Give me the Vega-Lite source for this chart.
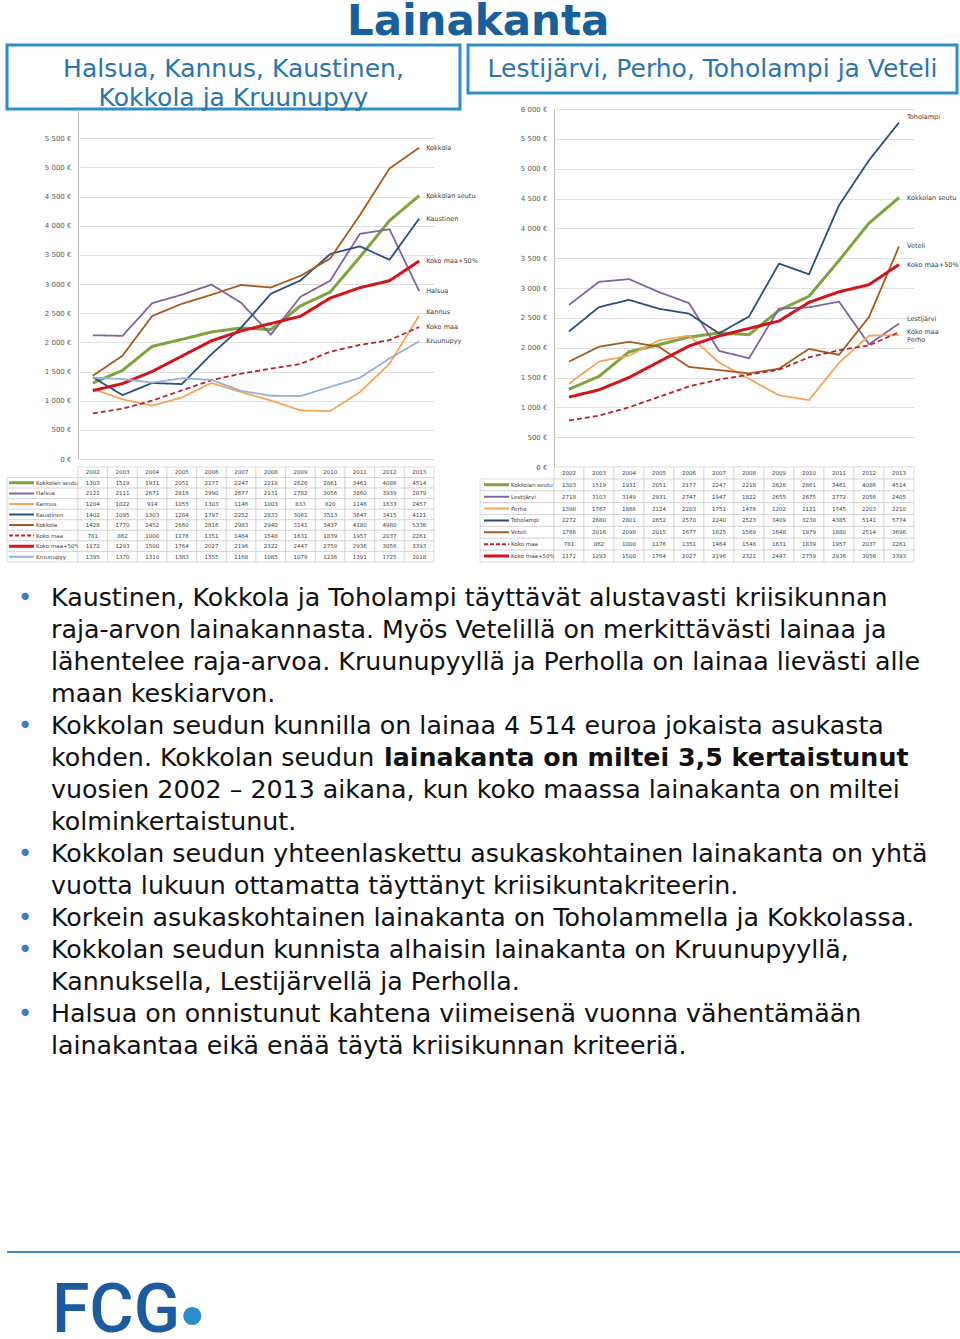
{
"$schema": "https://vega.github.io/schema/vega-lite/v6.json",
"padding": {"left": 5, "top": 0, "right": 0, "bottom": 0},
"config": {"view": {"stroke": null}, "font": "DejaVu Sans", "text": {"font": "DejaVu Sans"}},
"title": {"text": "Lainakanta", "fontSize": 42, "fontWeight": "bold", "color": "#17609C", "anchor": "middle", "offset": 0, "dx": -6, "font": "DejaVu Sans"},
"datasets": {
"L": [
{"s":"Kokkolan seutu","yr":"2002","v":1303},{"s":"Kokkolan seutu","yr":"2003","v":1519},{"s":"Kokkolan seutu","yr":"2004","v":1931},{"s":"Kokkolan seutu","yr":"2005","v":2051},{"s":"Kokkolan seutu","yr":"2006","v":2177},{"s":"Kokkolan seutu","yr":"2007","v":2247},{"s":"Kokkolan seutu","yr":"2008","v":2218},{"s":"Kokkolan seutu","yr":"2009","v":2626},{"s":"Kokkolan seutu","yr":"2010","v":2861},{"s":"Kokkolan seutu","yr":"2011","v":3461},{"s":"Kokkolan seutu","yr":"2012","v":4086},{"s":"Kokkolan seutu","yr":"2013","v":4514},
{"s":"Halsua","yr":"2002","v":2121},{"s":"Halsua","yr":"2003","v":2111},{"s":"Halsua","yr":"2004","v":2671},{"s":"Halsua","yr":"2005","v":2816},{"s":"Halsua","yr":"2006","v":2990},{"s":"Halsua","yr":"2007","v":2677},{"s":"Halsua","yr":"2008","v":2131},{"s":"Halsua","yr":"2009","v":2782},{"s":"Halsua","yr":"2010","v":3056},{"s":"Halsua","yr":"2011","v":3860},{"s":"Halsua","yr":"2012","v":3939},{"s":"Halsua","yr":"2013","v":2879},
{"s":"Kannus","yr":"2002","v":1204},{"s":"Kannus","yr":"2003","v":1022},{"s":"Kannus","yr":"2004","v":914},{"s":"Kannus","yr":"2005","v":1055},{"s":"Kannus","yr":"2006","v":1303},{"s":"Kannus","yr":"2007","v":1146},{"s":"Kannus","yr":"2008","v":1003},{"s":"Kannus","yr":"2009","v":833},{"s":"Kannus","yr":"2010","v":820},{"s":"Kannus","yr":"2011","v":1146},{"s":"Kannus","yr":"2012","v":1633},{"s":"Kannus","yr":"2013","v":2457},
{"s":"Kaustinen","yr":"2002","v":1402},{"s":"Kaustinen","yr":"2003","v":1095},{"s":"Kaustinen","yr":"2004","v":1303},{"s":"Kaustinen","yr":"2005","v":1284},{"s":"Kaustinen","yr":"2006","v":1797},{"s":"Kaustinen","yr":"2007","v":2252},{"s":"Kaustinen","yr":"2008","v":2833},{"s":"Kaustinen","yr":"2009","v":3061},{"s":"Kaustinen","yr":"2010","v":3513},{"s":"Kaustinen","yr":"2011","v":3647},{"s":"Kaustinen","yr":"2012","v":3415},{"s":"Kaustinen","yr":"2013","v":4121},
{"s":"Kokkola","yr":"2002","v":1428},{"s":"Kokkola","yr":"2003","v":1770},{"s":"Kokkola","yr":"2004","v":2452},{"s":"Kokkola","yr":"2005","v":2660},{"s":"Kokkola","yr":"2006","v":2816},{"s":"Kokkola","yr":"2007","v":2983},{"s":"Kokkola","yr":"2008","v":2940},{"s":"Kokkola","yr":"2009","v":3141},{"s":"Kokkola","yr":"2010","v":3437},{"s":"Kokkola","yr":"2011","v":4180},{"s":"Kokkola","yr":"2012","v":4980},{"s":"Kokkola","yr":"2013","v":5336},
{"s":"Koko maa","yr":"2002","v":781},{"s":"Koko maa","yr":"2003","v":862},{"s":"Koko maa","yr":"2004","v":1000},{"s":"Koko maa","yr":"2005","v":1176},{"s":"Koko maa","yr":"2006","v":1351},{"s":"Koko maa","yr":"2007","v":1464},{"s":"Koko maa","yr":"2008","v":1548},{"s":"Koko maa","yr":"2009","v":1631},{"s":"Koko maa","yr":"2010","v":1839},{"s":"Koko maa","yr":"2011","v":1957},{"s":"Koko maa","yr":"2012","v":2037},{"s":"Koko maa","yr":"2013","v":2261},
{"s":"Koko maa+50%","yr":"2002","v":1172},{"s":"Koko maa+50%","yr":"2003","v":1293},{"s":"Koko maa+50%","yr":"2004","v":1500},{"s":"Koko maa+50%","yr":"2005","v":1764},{"s":"Koko maa+50%","yr":"2006","v":2027},{"s":"Koko maa+50%","yr":"2007","v":2196},{"s":"Koko maa+50%","yr":"2008","v":2322},{"s":"Koko maa+50%","yr":"2009","v":2447},{"s":"Koko maa+50%","yr":"2010","v":2759},{"s":"Koko maa+50%","yr":"2011","v":2936},{"s":"Koko maa+50%","yr":"2012","v":3056},{"s":"Koko maa+50%","yr":"2013","v":3393},
{"s":"Kruunupyy","yr":"2002","v":1395},{"s":"Kruunupyy","yr":"2003","v":1370},{"s":"Kruunupyy","yr":"2004","v":1310},{"s":"Kruunupyy","yr":"2005","v":1383},{"s":"Kruunupyy","yr":"2006","v":1355},{"s":"Kruunupyy","yr":"2007","v":1168},{"s":"Kruunupyy","yr":"2008","v":1085},{"s":"Kruunupyy","yr":"2009","v":1079},{"s":"Kruunupyy","yr":"2010","v":1236},{"s":"Kruunupyy","yr":"2011","v":1391},{"s":"Kruunupyy","yr":"2012","v":1725},{"s":"Kruunupyy","yr":"2013","v":2018}
],
"R": [
{"s":"Kokkolan seutu","yr":"2002","v":1303},{"s":"Kokkolan seutu","yr":"2003","v":1519},{"s":"Kokkolan seutu","yr":"2004","v":1931},{"s":"Kokkolan seutu","yr":"2005","v":2051},{"s":"Kokkolan seutu","yr":"2006","v":2177},{"s":"Kokkolan seutu","yr":"2007","v":2247},{"s":"Kokkolan seutu","yr":"2008","v":2218},{"s":"Kokkolan seutu","yr":"2009","v":2626},{"s":"Kokkolan seutu","yr":"2010","v":2861},{"s":"Kokkolan seutu","yr":"2011","v":3461},{"s":"Kokkolan seutu","yr":"2012","v":4086},{"s":"Kokkolan seutu","yr":"2013","v":4514},
{"s":"Lestijärvi","yr":"2002","v":2718},{"s":"Lestijärvi","yr":"2003","v":3103},{"s":"Lestijärvi","yr":"2004","v":3149},{"s":"Lestijärvi","yr":"2005","v":2931},{"s":"Lestijärvi","yr":"2006","v":2747},{"s":"Lestijärvi","yr":"2007","v":1947},{"s":"Lestijärvi","yr":"2008","v":1822},{"s":"Lestijärvi","yr":"2009","v":2655},{"s":"Lestijärvi","yr":"2010","v":2675},{"s":"Lestijärvi","yr":"2011","v":2772},{"s":"Lestijärvi","yr":"2012","v":2056},{"s":"Lestijärvi","yr":"2013","v":2405},
{"s":"Perho","yr":"2002","v":1398},{"s":"Perho","yr":"2003","v":1767},{"s":"Perho","yr":"2004","v":1866},{"s":"Perho","yr":"2005","v":2124},{"s":"Perho","yr":"2006","v":2203},{"s":"Perho","yr":"2007","v":1751},{"s":"Perho","yr":"2008","v":1476},{"s":"Perho","yr":"2009","v":1202},{"s":"Perho","yr":"2010","v":1121},{"s":"Perho","yr":"2011","v":1745},{"s":"Perho","yr":"2012","v":2203},{"s":"Perho","yr":"2013","v":2210},
{"s":"Toholampi","yr":"2002","v":2272},{"s":"Toholampi","yr":"2003","v":2680},{"s":"Toholampi","yr":"2004","v":2801},{"s":"Toholampi","yr":"2005","v":2652},{"s":"Toholampi","yr":"2006","v":2570},{"s":"Toholampi","yr":"2007","v":2240},{"s":"Toholampi","yr":"2008","v":2523},{"s":"Toholampi","yr":"2009","v":3409},{"s":"Toholampi","yr":"2010","v":3230},{"s":"Toholampi","yr":"2011","v":4385},{"s":"Toholampi","yr":"2012","v":5141},{"s":"Toholampi","yr":"2013","v":5774},
{"s":"Veteli","yr":"2002","v":1766},{"s":"Veteli","yr":"2003","v":2016},{"s":"Veteli","yr":"2004","v":2098},{"s":"Veteli","yr":"2005","v":2015},{"s":"Veteli","yr":"2006","v":1677},{"s":"Veteli","yr":"2007","v":1625},{"s":"Veteli","yr":"2008","v":1569},{"s":"Veteli","yr":"2009","v":1648},{"s":"Veteli","yr":"2010","v":1979},{"s":"Veteli","yr":"2011","v":1880},{"s":"Veteli","yr":"2012","v":2514},{"s":"Veteli","yr":"2013","v":3696},
{"s":"Koko maa","yr":"2002","v":781},{"s":"Koko maa","yr":"2003","v":862},{"s":"Koko maa","yr":"2004","v":1000},{"s":"Koko maa","yr":"2005","v":1176},{"s":"Koko maa","yr":"2006","v":1351},{"s":"Koko maa","yr":"2007","v":1464},{"s":"Koko maa","yr":"2008","v":1548},{"s":"Koko maa","yr":"2009","v":1631},{"s":"Koko maa","yr":"2010","v":1839},{"s":"Koko maa","yr":"2011","v":1957},{"s":"Koko maa","yr":"2012","v":2037},{"s":"Koko maa","yr":"2013","v":2261},
{"s":"Koko maa+50%","yr":"2002","v":1172},{"s":"Koko maa+50%","yr":"2003","v":1293},{"s":"Koko maa+50%","yr":"2004","v":1500},{"s":"Koko maa+50%","yr":"2005","v":1764},{"s":"Koko maa+50%","yr":"2006","v":2027},{"s":"Koko maa+50%","yr":"2007","v":2196},{"s":"Koko maa+50%","yr":"2008","v":2322},{"s":"Koko maa+50%","yr":"2009","v":2447},{"s":"Koko maa+50%","yr":"2010","v":2759},{"s":"Koko maa+50%","yr":"2011","v":2936},{"s":"Koko maa+50%","yr":"2012","v":3056},{"s":"Koko maa+50%","yr":"2013","v":3393}
],
"TXT": [
{"n":1,"b":true,"t":"Kaustinen, Kokkola ja Toholampi täyttävät alustavasti kriisikunnan"},
{"n":2,"b":false,"t":"raja-arvon lainakannasta. Myös Vetelillä on merkittävästi lainaa ja"},
{"n":3,"b":false,"t":"lähentelee raja-arvoa.  Kruunupyyllä ja Perholla on lainaa lievästi alle"},
{"n":4,"b":false,"t":"maan keskiarvon."},
{"n":5,"b":true,"t":"Kokkolan seudun kunnilla on lainaa 4 514 euroa jokaista asukasta"},
{"n":6,"b":false,"t":"kohden. Kokkolan seudun ","bt":"lainakanta on miltei 3,5 kertaistunut"},
{"n":7,"b":false,"t":"vuosien 2002 – 2013 aikana, kun koko maassa lainakanta on miltei"},
{"n":8,"b":false,"t":"kolminkertaistunut."},
{"n":9,"b":true,"t":"Kokkolan seudun yhteenlaskettu asukaskohtainen lainakanta on yhtä"},
{"n":10,"b":false,"t":"vuotta lukuun ottamatta täyttänyt kriisikuntakriteerin."},
{"n":11,"b":true,"t":"Korkein asukaskohtainen lainakanta on Toholammella ja Kokkolassa."},
{"n":12,"b":true,"t":"Kokkolan seudun kunnista alhaisin lainakanta on Kruunupyyllä,"},
{"n":13,"b":false,"t":"Kannuksella, Lestijärvellä ja Perholla."},
{"n":14,"b":true,"t":"Halsua on onnistunut kahtena viimeisenä vuonna vähentämään"},
{"n":15,"b":false,"t":"lainakantaa eikä enää täytä kriisikunnan kriteeriä."}
]
},
"vconcat": [
{
"vconcat": [
{
"concat": [
{"width": 71, "height": 64, "data": {"values": [{"t": "Halsua, Kannus, Kaustinen,\nKokkola ja Kruunupyy"}]},
 "layer": [
  {"mark": {"type": "rect", "filled": false, "stroke": "#2C8FC6", "strokeWidth": 3},
   "encoding": {"x": {"datum": 0, "type": "quantitative", "scale": {"domain": [0, 1], "nice": false, "zero": false}, "axis": null}, "x2": {"datum": 6.38},
    "y": {"datum": 0, "type": "quantitative", "scale": {"domain": [0, 1], "nice": false, "zero": false}, "axis": null}, "y2": {"datum": 1}}},
  {"mark": {"type": "text", "lineBreak": "\n", "lineHeight": 29, "fontSize": 25, "fill": "#2B74AD", "baseline": "middle"},
   "encoding": {"x": {"datum": 3.19, "type": "quantitative"}, "y": {"datum": 0.625, "type": "quantitative"}, "text": {"field": "t"}}}
 ]},
{"width": 356, "height": 1, "data": {"values": [{}]}, "mark": {"type": "text", "fontSize": 0.1}, "encoding": {"text": {"value": ""}}},
{"width": 34, "height": 1, "data": {"values": [{}]}, "mark": {"type": "text", "fontSize": 0.1}, "encoding": {"text": {"value": ""}}},
{"width": 86, "height": 48, "data": {"values": [{"t": "Lestijärvi, Perho, Toholampi ja Veteli"}]},
 "layer": [
  {"mark": {"type": "rect", "filled": false, "stroke": "#2C8FC6", "strokeWidth": 3},
   "encoding": {"x": {"datum": 0, "type": "quantitative", "scale": {"domain": [0, 1], "nice": false, "zero": false}, "axis": null}, "x2": {"datum": 5.686},
    "y": {"datum": 0, "type": "quantitative", "scale": {"domain": [0, 1], "nice": false, "zero": false}, "axis": null}, "y2": {"datum": 1}}},
  {"mark": {"type": "text", "fontSize": 25, "fill": "#2B74AD", "baseline": "middle"},
   "encoding": {"x": {"datum": 2.843, "type": "quantitative"}, "y": {"datum": 0.5, "type": "quantitative"}, "text": {"field": "t"}}}
 ]},
{"width": 360, "height": 1, "data": {"values": [{}]}, "mark": {"type": "text", "fontSize": 0.1}, "encoding": {"text": {"value": ""}}},

{"width": 71, "height": 1, "data": {"values": [{}]}, "mark": {"type": "text", "fontSize": 0.1}, "encoding": {"text": {"value": ""}}},
{"width": 356, "height": 350, "data": {"name": "L"},
 "encoding": {
  "x": {"field": "yr", "type": "ordinal", "scale": {"type": "point", "padding": 0.5}, "axis": null},
  "y": {"field": "v", "type": "quantitative", "scale": {"domain": [0, 6000], "nice": false}, "axis": {"title": null, "values": [0,500,1000,1500,2000,2500,3000,3500,4000,4500,5000,5500], "labelExpr": "replace(format(datum.value, ','), ',', ' ') + ' €'", "labelOverlap": false, "grid": true, "gridColor": "#D9D9D9", "gridWidth": 0.8, "domainColor": "#BFBFBF", "ticks": false, "labelFontSize": 7, "labelColor": "#595959", "labelPadding": 7}}
 },
 "layer": [
  {"mark": {"type": "line", "strokeJoin": "round"},
   "encoding": {
    "color": {"field": "s", "type": "nominal", "scale": {"domain": ["Kokkolan seutu","Halsua","Kannus","Kaustinen","Kokkola","Koko maa","Koko maa+50%","Kruunupyy","Lestijärvi","Perho","Toholampi","Veteli"], "range": ["#7FA33F","#8064A2","#F5A55A","#2B4E7E","#A65A1E","#B8232B","#D4141A","#96B0D4","#8064A2","#F5A55A","#2B4E7E","#A65A1E"]}, "legend": null},
    "strokeDash": {"condition": {"test": "datum.s === 'Koko maa'", "value": [5, 3]}, "value": [1, 0]},
    "strokeWidth": {"condition": {"test": "datum.s === 'Kokkolan seutu' || datum.s === 'Koko maa+50%'", "value": 3}, "value": 1.8}
   }},
  {"transform": [{"filter": "datum.yr === '2013' && datum.s !== 'Kannus'"}],
   "mark": {"type": "text", "align": "left", "baseline": "middle", "dx": 7, "fontSize": 6.5, "fill": "#404040"},
   "encoding": {"text": {"field": "s"}}},
  {"transform": [{"filter": "datum.yr === '2013' && datum.s === 'Kannus'"}],
   "mark": {"type": "text", "align": "left", "baseline": "middle", "dx": 7, "dy": -4, "fontSize": 6.5, "fill": "#404040"},
   "encoding": {"text": {"field": "s"}}}
 ]},
{"width": 34, "height": 1, "data": {"values": [{}]}, "mark": {"type": "text", "fontSize": 0.1}, "encoding": {"text": {"value": ""}}},
{"width": 86, "height": 1, "data": {"values": [{}]}, "mark": {"type": "text", "fontSize": 0.1}, "encoding": {"text": {"value": ""}}},
{"width": 360, "height": 358, "data": {"name": "R"},
 "encoding": {
  "x": {"field": "yr", "type": "ordinal", "scale": {"type": "point", "padding": 0.5}, "axis": null},
  "y": {"field": "v", "type": "quantitative", "scale": {"domain": [0, 6000], "nice": false}, "axis": {"title": null, "values": [0,500,1000,1500,2000,2500,3000,3500,4000,4500,5000,5500,6000], "labelExpr": "replace(format(datum.value, ','), ',', ' ') + ' €'", "labelOverlap": false, "grid": true, "gridColor": "#D9D9D9", "gridWidth": 0.8, "domainColor": "#BFBFBF", "ticks": false, "labelFontSize": 7, "labelColor": "#595959", "labelPadding": 7}}
 },
 "layer": [
  {"mark": {"type": "line", "strokeJoin": "round"},
   "encoding": {
    "color": {"field": "s", "type": "nominal", "scale": {"domain": ["Kokkolan seutu","Halsua","Kannus","Kaustinen","Kokkola","Koko maa","Koko maa+50%","Kruunupyy","Lestijärvi","Perho","Toholampi","Veteli"], "range": ["#7FA33F","#8064A2","#F5A55A","#2B4E7E","#A65A1E","#B8232B","#D4141A","#96B0D4","#8064A2","#F5A55A","#2B4E7E","#A65A1E"]}, "legend": null},
    "strokeDash": {"condition": {"test": "datum.s === 'Koko maa'", "value": [5, 3]}, "value": [1, 0]},
    "strokeWidth": {"condition": {"test": "datum.s === 'Kokkolan seutu' || datum.s === 'Koko maa+50%'", "value": 3}, "value": 1.8}
   }},
  {"transform": [{"filter": "datum.yr === '2013' && datum.s !== 'Toholampi' && datum.s !== 'Lestijärvi' && datum.s !== 'Perho'"}],
   "mark": {"type": "text", "align": "left", "baseline": "middle", "dx": 8, "fontSize": 6.5, "fill": "#404040"},
   "encoding": {"text": {"field": "s"}}},
  {"transform": [{"filter": "datum.yr === '2013' && (datum.s === 'Toholampi' || datum.s === 'Lestijärvi')"}],
   "mark": {"type": "text", "align": "left", "baseline": "middle", "dx": 8, "dy": -5, "fontSize": 6.5, "fill": "#404040"},
   "encoding": {"text": {"field": "s"}}},
  {"transform": [{"filter": "datum.yr === '2013' && datum.s === 'Perho'"}],
   "mark": {"type": "text", "align": "left", "baseline": "middle", "dx": 8, "dy": 5, "fontSize": 6.5, "fill": "#404040"},
   "encoding": {"text": {"field": "s"}}}
 ]},

{"width": 71, "height": 95, "data": {"name": "L"},
 "transform": [{"filter": "datum.yr === '2002'"}],
 "encoding": {"y": {"field": "s", "type": "nominal", "scale": {"domain": [" ","Kokkolan seutu","Halsua","Kannus","Kaustinen","Kokkola","Koko maa","Koko maa+50%","Kruunupyy"], "paddingInner": 0, "paddingOuter": 0}, "axis": null}},
 "layer": [
  {"mark": {"type": "rect", "fill": "#FFFFFF", "stroke": "#C8C8C8", "strokeWidth": 0.6},
   "encoding": {"x": {"datum": 0, "type": "quantitative", "scale": {"domain": [0, 1], "nice": false, "zero": false}, "axis": null}, "x2": {"datum": 1}}},
  {"mark": {"type": "rule"},
   "encoding": {"x": {"datum": 0.03, "type": "quantitative"}, "x2": {"datum": 0.38},
    "color": {"field": "s", "type": "nominal", "legend": null},
    "strokeDash": {"condition": {"test": "datum.s === 'Koko maa'", "value": [4, 2]}, "value": [1, 0]},
    "strokeWidth": {"condition": {"test": "datum.s === 'Kokkolan seutu' || datum.s === 'Koko maa+50%'", "value": 3}, "value": 2}}},
  {"mark": {"type": "text", "align": "left", "baseline": "middle", "fontSize": 5.5, "fill": "#404040"},
   "encoding": {"x": {"datum": 0.41, "type": "quantitative"}, "text": {"field": "s"}}}
 ]},
{"width": 356, "height": 95, "data": {"name": "L"},
 "layer": [
  {"mark": {"type": "rect", "fill": "#FFFFFF", "stroke": "#C8C8C8", "strokeWidth": 0.6},
   "encoding": {"x": {"field": "yr", "type": "ordinal", "scale": {"type": "band", "paddingInner": 0, "paddingOuter": 0}, "axis": null},
    "y": {"field": "s", "type": "nominal", "scale": {"domain": [" ","Kokkolan seutu","Halsua","Kannus","Kaustinen","Kokkola","Koko maa","Koko maa+50%","Kruunupyy"], "paddingInner": 0, "paddingOuter": 0}, "axis": null}}},
  {"transform": [{"filter": "datum.s === 'Kokkolan seutu'"}],
   "mark": {"type": "rect", "fill": "#FFFFFF", "stroke": "#C8C8C8", "strokeWidth": 0.6},
   "encoding": {"x": {"field": "yr", "type": "ordinal"}, "y": {"datum": " ", "type": "nominal"}}},
  {"mark": {"type": "text", "baseline": "middle", "fontSize": 5.5, "fill": "#404040"},
   "encoding": {"x": {"field": "yr", "type": "ordinal"}, "y": {"field": "s", "type": "nominal"}, "text": {"field": "v", "type": "quantitative", "format": "d"}}},
  {"transform": [{"filter": "datum.s === 'Kokkolan seutu'"}],
   "mark": {"type": "text", "baseline": "middle", "fontSize": 5.5, "fill": "#404040"},
   "encoding": {"x": {"field": "yr", "type": "ordinal"}, "y": {"datum": " ", "type": "nominal"}, "text": {"field": "yr"}}}
 ]},
{"width": 34, "height": 1, "data": {"values": [{}]}, "mark": {"type": "text", "fontSize": 0.1}, "encoding": {"text": {"value": ""}}},
{"width": 86, "height": 95, "data": {"name": "R"},
 "transform": [{"filter": "datum.yr === '2002'"}],
 "encoding": {"y": {"field": "s", "type": "nominal", "scale": {"domain": [" ","Kokkolan seutu","Lestijärvi","Perho","Toholampi","Veteli","Koko maa","Koko maa+50%"], "paddingInner": 0, "paddingOuter": 0}, "axis": null}},
 "layer": [
  {"mark": {"type": "rect", "fill": "#FFFFFF", "stroke": "#C8C8C8", "strokeWidth": 0.6},
   "encoding": {"x": {"datum": 0.14, "type": "quantitative", "scale": {"domain": [0, 1], "nice": false, "zero": false}, "axis": null}, "x2": {"datum": 1}}},
  {"mark": {"type": "rule"},
   "encoding": {"x": {"datum": 0.186, "type": "quantitative"}, "x2": {"datum": 0.477},
    "color": {"field": "s", "type": "nominal", "legend": null},
    "strokeDash": {"condition": {"test": "datum.s === 'Koko maa'", "value": [4, 2]}, "value": [1, 0]},
    "strokeWidth": {"condition": {"test": "datum.s === 'Kokkolan seutu' || datum.s === 'Koko maa+50%'", "value": 3}, "value": 2}}},
  {"mark": {"type": "text", "align": "left", "baseline": "middle", "fontSize": 5.5, "fill": "#404040"},
   "encoding": {"x": {"datum": 0.5, "type": "quantitative"}, "text": {"field": "s"}}}
 ]},
{"width": 360, "height": 95, "data": {"name": "R"},
 "layer": [
  {"mark": {"type": "rect", "fill": "#FFFFFF", "stroke": "#C8C8C8", "strokeWidth": 0.6},
   "encoding": {"x": {"field": "yr", "type": "ordinal", "scale": {"type": "band", "paddingInner": 0, "paddingOuter": 0}, "axis": null},
    "y": {"field": "s", "type": "nominal", "scale": {"domain": [" ","Kokkolan seutu","Lestijärvi","Perho","Toholampi","Veteli","Koko maa","Koko maa+50%"], "paddingInner": 0, "paddingOuter": 0}, "axis": null}}},
  {"transform": [{"filter": "datum.s === 'Kokkolan seutu'"}],
   "mark": {"type": "rect", "fill": "#FFFFFF", "stroke": "#C8C8C8", "strokeWidth": 0.6},
   "encoding": {"x": {"field": "yr", "type": "ordinal"}, "y": {"datum": " ", "type": "nominal"}}},
  {"mark": {"type": "text", "baseline": "middle", "fontSize": 5.5, "fill": "#404040"},
   "encoding": {"x": {"field": "yr", "type": "ordinal"}, "y": {"field": "s", "type": "nominal"}, "text": {"field": "v", "type": "quantitative", "format": "d"}}},
  {"transform": [{"filter": "datum.s === 'Kokkolan seutu'"}],
   "mark": {"type": "text", "baseline": "middle", "fontSize": 5.5, "fill": "#404040"},
   "encoding": {"x": {"field": "yr", "type": "ordinal"}, "y": {"datum": " ", "type": "nominal"}, "text": {"field": "yr"}}}
 ]}
],
"columns": 5, "spacing": 0, "bounds": "flush", "align": "each"
},
{"width": 930, "height": 486, "data": {"name": "TXT"},
 "encoding": {"y": {"field": "n", "type": "ordinal", "scale": {"type": "point", "padding": 0.6}, "axis": null}},
 "layer": [
  {"transform": [{"filter": "datum.b"}],
   "mark": {"type": "text", "text": "•", "fontSize": 25, "fill": "#3A7FC1", "align": "center", "baseline": "middle"},
   "encoding": {"x": {"datum": 0.0194, "type": "quantitative", "scale": {"domain": [0, 1], "nice": false, "zero": false}, "axis": null}}},
  {"mark": {"type": "text", "align": "left", "baseline": "middle", "fontSize": 25.3, "fill": "#111111"},
   "encoding": {"x": {"datum": 0.0473, "type": "quantitative"}, "text": {"field": "t"}}},
  {"transform": [{"filter": "datum.bt"}],
   "mark": {"type": "text", "align": "left", "baseline": "middle", "fontSize": 25.3, "fontWeight": "bold", "dx": 333, "fill": "#111111"},
   "encoding": {"x": {"datum": 0.0473, "type": "quantitative"}, "text": {"field": "bt"}}}
 ]}
],
"spacing": 16
},
{"width": 955, "height": 87,
 "layer": [
  {"data": {"values": [{}]}, "mark": {"type": "rule", "stroke": "#3D8CC3", "strokeWidth": 2},
   "encoding": {"y": {"datum": 1, "type": "quantitative", "scale": {"domain": [0, 1], "nice": false, "zero": false}, "axis": null}}},
  {"data": {"values": [{"t": "FCG"}]}, "mark": {"type": "text", "align": "left", "baseline": "alphabetic", "fontSize": 68, "font": "Roboto", "fontWeight": 500, "fill": "#1D5A9E"},
   "encoding": {"x": {"datum": 0.047, "type": "quantitative", "scale": {"domain": [0, 1], "nice": false, "zero": false}, "axis": null}, "y": {"datum": 0.08, "type": "quantitative"}, "text": {"field": "t"}}},
  {"data": {"values": [{}]}, "mark": {"type": "point", "filled": true, "shape": "circle", "size": 330, "fill": "#2C8BCB", "opacity": 1},
   "encoding": {"x": {"datum": 0.194, "type": "quantitative"}, "y": {"datum": 0.264, "type": "quantitative"}}}
 ]}
],
"spacing": 186
}
